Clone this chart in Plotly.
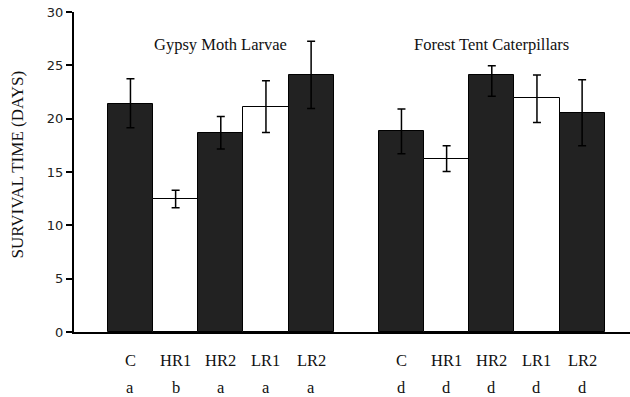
import plotly.graph_objects as go

groups = ["Gypsy Moth Larvae", "Forest Tent Caterpillars"]
treatments = ["C", "HR1", "HR2", "LR1", "LR2"]

gypsy_mean = [21.4, 12.5, 18.7, 21.1, 24.1]
gypsy_err_up = [2.35, 0.8, 1.5, 2.45, 3.15]
gypsy_err_down = [2.25, 0.85, 1.55, 2.4, 3.15]
gypsy_letters = ["a", "b", "a", "a", "a"]

forest_mean = [18.85, 16.2, 24.1, 21.9, 20.5]
forest_err_up = [2.05, 1.25, 0.85, 2.2, 3.15]
forest_err_down = [2.15, 1.15, 2.0, 2.25, 3.05]
forest_letters = ["d", "d", "d", "d", "d"]

bar_colors = ["#222222", "white", "#222222", "white", "#222222"]

y_ticks = [0, 5, 10, 15, 20, 25, 30]
y_title = "SURVIVAL TIME (DAYS)"

gypsy_x = [0, 1, 2, 3, 4]
forest_x = [6, 7, 8, 9, 10]

fig = go.Figure()
for xs, means, eu, ed in [(gypsy_x, gypsy_mean, gypsy_err_up, gypsy_err_down),
                          (forest_x, forest_mean, forest_err_up, forest_err_down)]:
    fig.add_trace(go.Bar(
        x=xs, y=means, width=1,
        marker=dict(color=bar_colors, line=dict(color="black", width=1)),
        error_y=dict(type="data", symmetric=False, array=eu, arrayminus=ed,
                     color="black", thickness=1.5, width=4),
        showlegend=False, hoverinfo="skip",
    ))

serif = "Liberation Serif, Times New Roman, serif"
annotations = []
for xs, name, letters in [(gypsy_x, groups[0], gypsy_letters), (forest_x, groups[1], forest_letters)]:
    annotations.append(dict(x=(xs[0] + xs[-1]) / 2, y=0.897, xref="x", yref="paper",
                            yanchor="middle", text=name, showarrow=False,
                            font=dict(family=serif, size=16.5, color="#111")))
    for x, t, l in zip(xs, treatments, letters):
        annotations.append(dict(x=x, y=-0.09, xref="x", yref="paper", yanchor="middle",
                                text=t, showarrow=False,
                                font=dict(family=serif, size=16.5, color="#111")))
        annotations.append(dict(x=x, y=-0.172, xref="x", yref="paper", yanchor="middle",
                                text=l, showarrow=False,
                                font=dict(family=serif, size=16.5, color="#111")))

annotations.append(dict(x=-0.1016, y=0.522, xref="paper", yref="paper", xanchor="center",
                        yanchor="middle", textangle=-90, text=y_title, showarrow=False,
                        font=dict(family=serif, size=17, color="#111")))

fig.update_layout(
    width=630, height=397,
    margin=dict(l=74, r=0, t=12, b=65),
    paper_bgcolor="white", plot_bgcolor="white",
    bargap=0,
    annotations=annotations,
    xaxis=dict(range=[-1.25, 11.06], showticklabels=False, ticks="", showgrid=False,
               zeroline=False, showline=True, linecolor="black", linewidth=2),
    yaxis=dict(range=[0, 30], tickvals=y_ticks, ticks="outside", ticklen=6, tickwidth=1.5,
               tickcolor="black", showgrid=False, zeroline=False, showline=True,
               linecolor="black", linewidth=2,
               tickfont=dict(family="DejaVu Sans, Verdana, sans-serif", size=13, color="#222")),
)

fig.write_html("out.html", config={"displayModeBar": False},
               post_script="document.body.style.margin='0';document.body.style.overflow='hidden';")
